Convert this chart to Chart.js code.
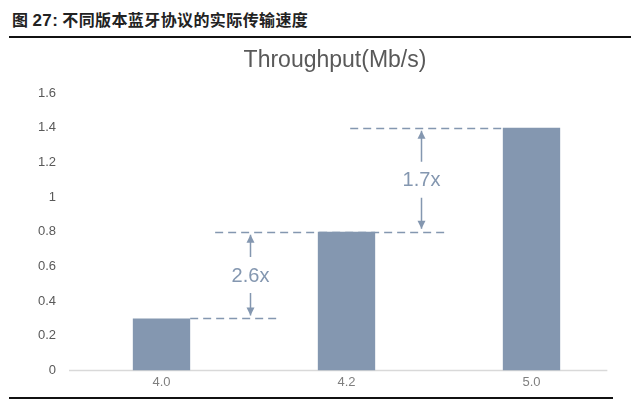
<!DOCTYPE html>
<html>
<head>
<meta charset="utf-8">
<script src="https://cdn.jsdelivr.net/npm/chart.js@4"></script>
<style>
  html, body { margin: 0; padding: 0; background: #fff; }
  body { width: 640px; height: 402px; position: relative; overflow: hidden; }
  #hdr { position: absolute; left: 12px; top: 7px; font: bold 16px "Noto Sans CJK SC", sans-serif; color: #222; letter-spacing: 0.4px; }
  #hdr b { font-family: "Liberation Sans", Arial, sans-serif; font-size: 17px; }
  #topLine { position: absolute; left: 9px; top: 36px; width: 622px; height: 2px; background: #111; }
  #botLine { position: absolute; left: 9px; top: 397px; width: 604px; height: 2px; background: #111; }
  #ttl { position: absolute; left: 185px; width: 300px; top: 46px; text-align: center; font: 23px "Liberation Sans", Arial, sans-serif; color: #595959; }
  #wrap { position: absolute; left: 0; top: 42px; width: 640px; height: 352px; }
</style>
</head>
<body>
<div id="hdr">图 <b>27:</b> 不同版本蓝牙协议的实际传输速度</div>
<div id="topLine"></div>
<div id="wrap"><canvas id="chart"></canvas></div>
<div id="ttl">Throughput(Mb/s)</div>
<div id="botLine"></div>
<script>
// Bluetooth version throughput comparison

const versions = ['4.0', '4.2', '5.0'];
const throughput = [0.3, 0.8, 1.4];
const ratioLabels = ['2.6x', '1.7x'];

const barColor = '#8497B0';

// baseline, dashed guide lines + arrows between bars
const ratioPlugin = {
    id: 'ratioArrows',
    beforeDatasetsDraw(chart) {
        const { ctx } = chart;
        const x = chart.scales.x;
        const y0 = Math.round(chart.scales.y.getPixelForValue(0)) + 0.5;
        ctx.save();
        ctx.strokeStyle = '#d9d9d9';
        ctx.lineWidth = 1.5;
        ctx.beginPath();
        ctx.moveTo(chart.chartArea.left, y0);
        ctx.lineTo(x.getPixelForValue(2.41), y0);
        ctx.stroke();
        ctx.restore();
    },
    afterDatasetsDraw(chart) {
        const { ctx } = chart;
        const x = chart.scales.x;
        const y = chart.scales.y;
        // horizontal extents as fractional category positions
        const guides = [
            { v: throughput[0], from: 0.155, to: 0.63 },
            { v: throughput[1], from: 0.29, to: 1.55 },
            { v: throughput[2], from: 1.02, to: 1.84 }
        ];
        const arrowX = [0.48, 1.4];

        ctx.save();
        ctx.strokeStyle = barColor;
        ctx.lineWidth = 1.5;
        ctx.setLineDash([8, 5]);
        guides.forEach(g => {
            const py = Math.round(y.getPixelForValue(g.v)) + 0.5;
            ctx.beginPath();
            ctx.moveTo(x.getPixelForValue(g.from), py);
            ctx.lineTo(x.getPixelForValue(g.to), py);
            ctx.stroke();
        });
        ctx.setLineDash([]);

        ratioLabels.forEach((lbl, i) => {
            const ax = Math.round(x.getPixelForValue(arrowX[i])) + 0.5;
            const top = y.getPixelForValue(throughput[i + 1]) + 3;
            const bot = y.getPixelForValue(throughput[i]) - 3;
            const mid = (top + bot) / 2;
            ctx.beginPath();
            ctx.moveTo(ax, top);
            ctx.lineTo(ax, mid - 18);
            ctx.moveTo(ax, mid + 18);
            ctx.lineTo(ax, bot);
            ctx.stroke();
            ctx.fillStyle = barColor;
            ctx.beginPath();
            ctx.moveTo(ax, top);
            ctx.lineTo(ax - 4, top + 8);
            ctx.lineTo(ax + 4, top + 8);
            ctx.closePath();
            ctx.fill();
            ctx.beginPath();
            ctx.moveTo(ax, bot);
            ctx.lineTo(ax - 4, bot - 8);
            ctx.lineTo(ax + 4, bot - 8);
            ctx.closePath();
            ctx.fill();
            ctx.font = '20px "Liberation Sans", Arial, sans-serif';
            ctx.textAlign = 'center';
            ctx.textBaseline = 'middle';
            ctx.fillText(lbl, ax, mid + 1);
        });
        ctx.restore();
    }
};

new Chart(document.getElementById('chart'), {
    type: 'bar',
    data: {
        labels: versions,
        datasets: [{
            label: 'Throughput(Mb/s)',
            data: throughput,
            backgroundColor: barColor,
            barPercentage: 1,
            categoryPercentage: 0.31
        }]
    },
    options: {
        responsive: true,
        maintainAspectRatio: false,
        animation: false,
        layout: { padding: { left: 0, right: 16, top: 51, bottom: 0 } },
        plugins: {
            legend: { display: false },
            tooltip: { enabled: false },
            title: { display: false }
        },
        scales: {
            x: {
                grid: { display: false, drawTicks: false },
                border: { display: false },
                ticks: {
                    color: '#7f7f7f',
                    font: { family: '"Liberation Sans", Arial, sans-serif', size: 13 },
                    padding: 4
                }
            },
            y: {
                min: 0,
                max: 1.6,
                afterFit(scale) { scale.width = 69; },
                border: { display: false },
                grid: { display: false, drawTicks: false },
                ticks: {
                    stepSize: 0.2,
                    color: '#595959',
                    padding: 13,
                    font: { family: '"Liberation Sans", Arial, sans-serif', size: 13 },
                    callback: v => String(parseFloat(v.toFixed(1)))
                }
            }
        }
    },
    plugins: [ratioPlugin]
});
</script>
</body>
</html>
